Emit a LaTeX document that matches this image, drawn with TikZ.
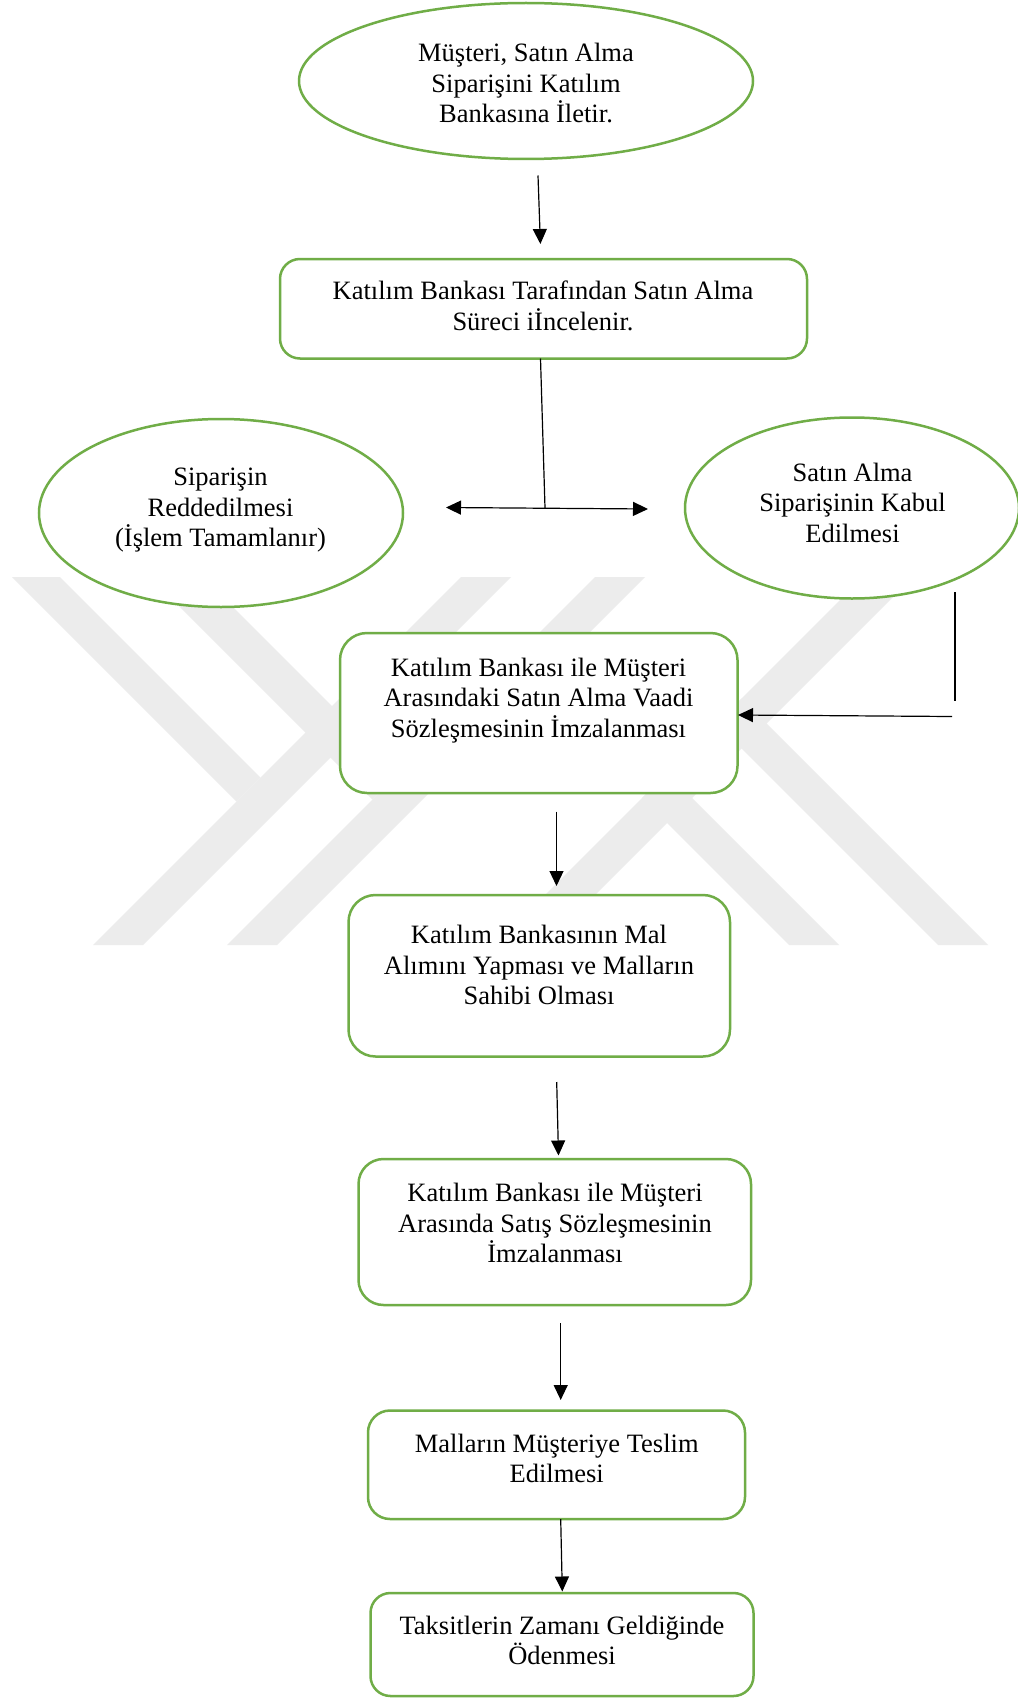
\documentclass[tikz,border=0pt]{standalone}
\usepackage{fontspec}
\setmainfont{Liberation Serif}
\usetikzlibrary{arrows.meta,shapes.geometric}
\definecolor{lineGreen}{RGB}{112,173,71}
\definecolor{wmgray}{RGB}{236,236,236}
\newcommand{\mystrut}{\rule[-8pt]{0pt}{30.5pt}}
\begin{document}
\begin{tikzpicture}[x=1pt,y=-1pt,
  ovalnode/.style={ellipse, draw=lineGreen, line width=2.5pt, fill=white, inner sep=0pt},
  boxnode/.style={rectangle, draw=lineGreen, line width=2.5pt, fill=white, inner sep=0pt, rounded corners=#1},
  txt/.style={align=center, font=\fontsize{26.5}{30.5}\selectfont, inner sep=0pt},
  arr/.style={-{Triangle[length=15pt,width=14pt]}, line width=1.2pt},
  darr/.style={{Triangle[length=15pt,width=14pt]}-{Triangle[length=15pt,width=14pt]}, line width=1.2pt},
  plain/.style={line width=1.2pt}
]
\useasboundingbox (0,0) rectangle (1017,1699);
\fill[white] (0,0) rectangle (1017,1699);

% watermark
\fill[wmgray] (12,577) -- (60,577) -- (260.5,777.5) -- (236.5,801.5) -- cycle;
\fill[wmgray] (461,577) -- (511,577) -- (143,945) -- (93,945) -- cycle;
\fill[wmgray] (150,577) -- (203,577) -- (399,773) -- (372.5,799.5) -- cycle;
\fill[wmgray] (595,577) -- (645,577) -- (277,945) -- (227,945) -- cycle;
\fill[wmgray] (863,577) -- (913,577) -- (545,945) -- (495,945) -- cycle;
\fill[wmgray] (642,798) -- (667,773) -- (839,945) -- (789,945) -- cycle;
\fill[wmgray] (716.5,723.5) -- (741.5,698.5) -- (988,945) -- (938,945) -- cycle;

% shapes
\node[ovalnode, minimum width=454, minimum height=156] (e1) at (526,81) {};
\node[boxnode=20, minimum width=527, minimum height=99.5] (b2) at (543.5,308.75) {};
\node[ovalnode, minimum width=364, minimum height=188] (e2) at (221,513) {};
\node[ovalnode, minimum width=334, minimum height=181] (e3) at (852,508) {};
\node[boxnode=27, minimum width=397.5, minimum height=160] (b3) at (538.75,713) {};
\node[boxnode=27, minimum width=381.5, minimum height=161.5] (b4) at (539.25,975.75) {};
\node[boxnode=25, minimum width=392.5, minimum height=146] (b5) at (554.75,1232) {};
\node[boxnode=22, minimum width=377, minimum height=108.5] (b6) at (556.5,1464.75) {};
\node[boxnode=20, minimum width=383, minimum height=103] (b7) at (562,1644.5) {};

% texts
\node[txt] (t1) at (526,85) {\mystrut Müşteri, Satın Alma\\\mystrut Siparişini Katılım\\\mystrut Bankasına İletir.};
\node[txt] (t2) at (543,307.5) {\mystrut Katılım Bankası Tarafından Satın Alma\\\mystrut Süreci iİncelenir.};
\node[txt] (t3) at (220.5,509) {\mystrut Siparişin\\\mystrut Reddedilmesi\\\mystrut (İşlem Tamamlanır)};
\node[txt] (t4) at (852.5,504.5) {\mystrut Satın Alma\\\mystrut Siparişinin Kabul\\\mystrut Edilmesi};
\node[txt] (t5) at (538.5,699.5) {\mystrut Katılım Bankası ile Müşteri\\\mystrut Arasındaki Satın Alma Vaadi\\\mystrut Sözleşmesinin İmzalanması};
\node[txt] (t6) at (539,967) {\mystrut Katılım Bankasının Mal\\\mystrut Alımını Yapması ve Malların\\\mystrut Sahibi Olması};
\node[txt] (t7) at (555,1225) {\mystrut Katılım Bankası ile Müşteri\\\mystrut Arasında Satış Sözleşmesinin\\\mystrut İmzalanması};
\node[txt] (t8) at (556.7,1460) {\mystrut Malların Müşteriye Teslim\\\mystrut Edilmesi};
\node[txt] (t9) at (562,1642) {\mystrut Taksitlerin Zamanı Geldiğinde\\\mystrut Ödenmesi};

% connector ends
\coordinate (a1s) at (538,175.5);
\coordinate (a1e) at (540.4,244);
\coordinate (j0) at (540.5,358.5);
\coordinate (j1) at (545,508);
\coordinate (dl) at (446,507.5);
\coordinate (dr) at (648,509);
\coordinate (r1) at (955,592);
\coordinate (r2) at (955,700.5);
\coordinate (h1) at (952,716.5);
\coordinate (h2) at (738,715);
\coordinate (a3s) at (556.5,811.5);
\coordinate (a3e) at (556.5,886);
\coordinate (a4s) at (556.7,1082);
\coordinate (a4e) at (558.5,1155.5);
\coordinate (a5s) at (560.7,1323);
\coordinate (a5e) at (560.7,1400);
\coordinate (a6s) at (560.7,1519);
\coordinate (a6e) at (562.3,1591.5);

% connectors
\draw[arr] (a1s) -- (a1e);
\draw[plain] (j0) -- (j1);
\draw[darr] (dl) -- (dr);
\draw[plain] (r1) -- (r2);
\draw[arr] (h1) -- (h2);
\draw[arr] (a3s) -- (a3e);
\draw[arr] (a4s) -- (a4e);
\draw[arr] (a5s) -- (a5e);
\draw[arr] (a6s) -- (a6e);
\end{tikzpicture}
\end{document}
